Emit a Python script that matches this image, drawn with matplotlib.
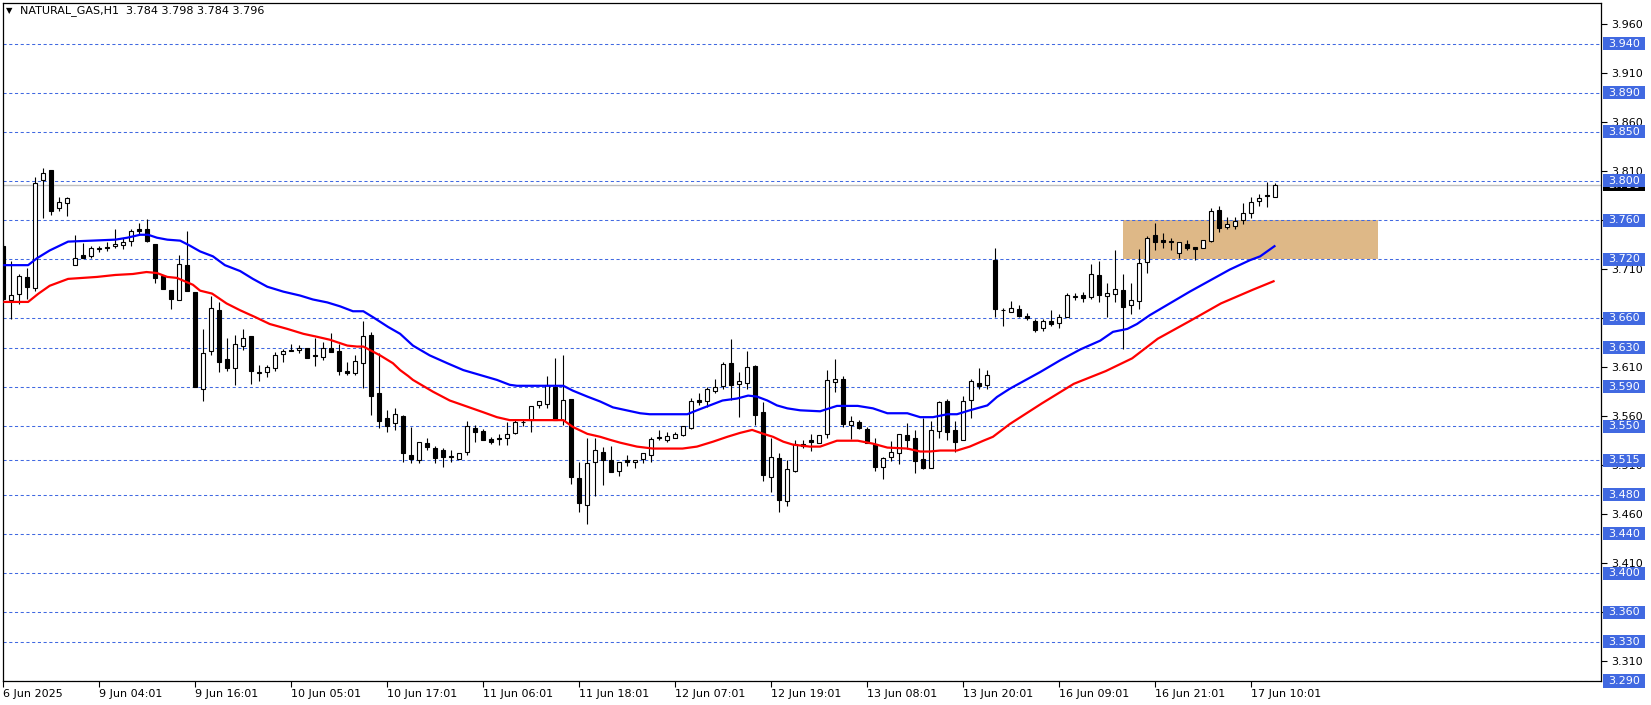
import matplotlib
matplotlib.use("Agg")
import matplotlib.pyplot as plt
from matplotlib.patches import Rectangle
import numpy as np

plt.rcParams['font.family'] = ['DejaVu Sans']

# ---------------- data ----------------
opens = [3.734,3.678,3.685,3.702,3.691,3.801,3.811,3.772,3.777,3.714,
         3.724,3.723,3.730,3.733,3.734,3.735,3.739,3.751,3.751,3.736,
         3.703,3.689,3.678,3.714,3.687,3.588,3.626,3.668,3.618,3.609,
         3.632,3.642,3.604,3.605,3.609,3.623,3.627,3.628,3.630,3.622,
         3.620,3.630,3.626,3.606,3.604,3.614,3.643,3.584,3.558,3.553,
         3.560,3.520,3.515,3.533,3.528,3.526,3.519,3.516,3.523,3.548,
         3.545,3.537,3.538,3.538,3.543,3.554,3.556,3.571,3.572,3.590,
         3.556,3.578,3.497,3.469,3.513,3.524,3.515,3.504,3.515,3.513,
         3.516,3.520,3.538,3.536,3.538,3.541,3.548,3.577,3.575,3.586,
         3.591,3.614,3.593,3.594,3.611,3.564,3.498,3.517,3.474,3.504,
         3.532,3.536,3.533,3.542,3.595,3.598,3.551,3.554,3.547,3.532,
         3.508,3.518,3.522,3.541,3.538,3.516,3.507,3.545,3.575,3.546,
         3.536,3.577,3.594,3.592,3.719,3.668,3.666,3.669,3.662,3.657,
         3.650,3.657,3.655,3.661,3.682,3.684,3.682,3.704,3.683,3.685,
         3.689,3.673,3.677,3.717,3.745,3.740,3.739,3.726,3.736,3.733,
         3.731,3.739,3.770,3.753,3.754,3.760,3.767,3.779,3.786,3.784]
highs = [3.737,3.718,3.705,3.711,3.804,3.813,3.811,3.784,3.784,3.745,
         3.737,3.734,3.734,3.738,3.751,3.742,3.751,3.757,3.761,3.736,
         3.703,3.689,3.724,3.749,3.687,3.649,3.683,3.676,3.640,3.643,
         3.649,3.642,3.612,3.612,3.625,3.629,3.634,3.633,3.630,3.640,
         3.636,3.645,3.634,3.615,3.622,3.657,3.646,3.624,3.566,3.568,
         3.561,3.549,3.534,3.538,3.530,3.528,3.526,3.522,3.555,3.551,
         3.547,3.539,3.542,3.554,3.557,3.557,3.570,3.576,3.601,3.619,
         3.622,3.578,3.513,3.538,3.538,3.529,3.530,3.513,3.520,3.515,
         3.522,3.539,3.546,3.544,3.544,3.550,3.579,3.584,3.590,3.598,
         3.615,3.639,3.605,3.626,3.612,3.574,3.538,3.522,3.515,3.536,
         3.536,3.542,3.541,3.607,3.618,3.601,3.560,3.556,3.549,3.538,
         3.518,3.535,3.542,3.553,3.546,3.558,3.555,3.576,3.578,3.555,
         3.581,3.598,3.609,3.607,3.732,3.670,3.677,3.673,3.665,3.659,
         3.659,3.668,3.664,3.686,3.686,3.687,3.715,3.718,3.696,3.729,
         3.705,3.696,3.730,3.744,3.757,3.747,3.742,3.738,3.740,3.733,
         3.740,3.772,3.774,3.763,3.763,3.777,3.783,3.787,3.799,3.798]
lows = [3.676,3.659,3.674,3.680,3.688,3.762,3.765,3.769,3.764,3.714,
        3.721,3.721,3.727,3.728,3.732,3.730,3.734,3.746,3.738,3.696,
        3.690,3.669,3.678,3.688,3.590,3.576,3.622,3.605,3.606,3.592,
        3.628,3.593,3.596,3.600,3.606,3.615,3.626,3.624,3.619,3.611,
        3.617,3.625,3.602,3.602,3.602,3.589,3.561,3.548,3.544,3.546,
        3.513,3.512,3.512,3.526,3.512,3.508,3.513,3.516,3.520,3.534,
        3.536,3.532,3.531,3.531,3.542,3.550,3.544,3.568,3.568,3.556,
        3.551,3.491,3.462,3.450,3.479,3.490,3.503,3.499,3.509,3.507,
        3.512,3.513,3.536,3.534,3.538,3.540,3.547,3.571,3.569,3.584,
        3.588,3.577,3.559,3.588,3.551,3.494,3.483,3.462,3.468,3.503,
        3.528,3.525,3.533,3.538,3.585,3.549,3.537,3.547,3.533,3.504,
        3.496,3.514,3.511,3.527,3.502,3.506,3.507,3.538,3.536,3.523,
        3.536,3.558,3.588,3.588,3.661,3.652,3.666,3.661,3.658,3.646,
        3.647,3.652,3.650,3.661,3.678,3.676,3.679,3.676,3.661,3.676,
        3.629,3.664,3.669,3.706,3.729,3.731,3.729,3.721,3.729,3.719,
        3.731,3.738,3.748,3.751,3.751,3.756,3.762,3.774,3.773,3.784]
closes = [3.680,3.684,3.703,3.692,3.798,3.808,3.769,3.778,3.782,3.721,
          3.721,3.731,3.731,3.732,3.736,3.738,3.749,3.749,3.739,3.701,
          3.690,3.680,3.715,3.688,3.590,3.624,3.670,3.615,3.609,3.634,
          3.640,3.606,3.605,3.610,3.622,3.626,3.626,3.630,3.619,3.621,
          3.630,3.625,3.606,3.604,3.616,3.642,3.581,3.555,3.550,3.562,
          3.522,3.516,3.534,3.529,3.517,3.518,3.518,3.522,3.550,3.544,
          3.536,3.534,3.537,3.542,3.554,3.554,3.570,3.575,3.592,3.556,
          3.577,3.498,3.472,3.512,3.526,3.515,3.503,3.513,3.513,3.515,
          3.522,3.537,3.538,3.540,3.542,3.550,3.576,3.574,3.588,3.590,
          3.613,3.592,3.596,3.610,3.561,3.500,3.518,3.475,3.506,3.532,
          3.530,3.534,3.541,3.597,3.598,3.552,3.555,3.548,3.533,3.508,
          3.517,3.523,3.542,3.536,3.514,3.507,3.546,3.574,3.544,3.534,
          3.576,3.596,3.591,3.602,3.669,3.668,3.670,3.662,3.660,3.648,
          3.657,3.654,3.661,3.684,3.682,3.681,3.705,3.684,3.686,3.690,
          3.671,3.678,3.716,3.742,3.738,3.738,3.738,3.738,3.732,3.730,
          3.740,3.769,3.752,3.756,3.759,3.767,3.778,3.782,3.785,3.796]

# moving averages, sampled along the bars (bar index, price)
ma_blue_x = [0,3.1,4.2,5.8,8.1,11.1,14.0,15.5,17.1,18.1,19.2,20.5,22.1,23.3,24.6,26.2,
             27.7,29.6,31.2,33.0,35.0,37.1,38.7,40.5,42.1,43.7,45.0,46.2,48.1,49.6,
             51.2,53.3,55.5,57.5,59.6,61.7,63.3,64.2,70.0,71.2,73.0,74.6,76.2,77.9,
             79.6,80.8,85.5,86.7,88.3,89.9,91.7,93.1,94.2,95.5,96.7,98.0,99.6,102.1,
             104.2,106.8,108.7,110.5,113.0,114.6,116.2,118.0,119.2,120.8,123.0,124.2,
             125.8,129.6,132.1,134.6,137.1,138.7,140.5,141.7,143.3,148.3,153.3,155.8,
             157.1,159.0]
ma_blue_y = [3.714,3.714,3.721,3.729,3.738,3.739,3.740,3.742,3.745,3.745,3.742,3.740,
             3.739,3.734,3.728,3.723,3.714,3.708,3.700,3.692,3.687,3.683,3.679,3.676,
             3.672,3.667,3.667,3.661,3.651,3.644,3.632,3.622,3.614,3.607,3.602,3.597,
             3.592,3.591,3.591,3.586,3.580,3.575,3.569,3.566,3.563,3.562,3.562,3.566,
             3.571,3.576,3.578,3.581,3.580,3.576,3.571,3.568,3.566,3.565,3.5705,3.5705,
             3.568,3.563,3.563,3.559,3.559,3.562,3.562,3.566,3.571,3.5796,3.588,3.605,
             3.617,3.628,3.637,3.646,3.649,3.654,3.663,3.687,3.7095,3.719,3.723,3.734]
ma_red_x = [0,3.1,4.4,5.8,8.1,11.7,14.0,16.2,17.9,19.2,20.5,21.7,23.7,24.6,26.1,27.9,
            29.6,31.5,33.3,35.5,37.5,39.2,40.8,43.0,44.2,45.0,47.1,48.7,49.6,50.6,
            51.2,53.7,55.8,57.9,60.0,61.7,63.3,70.0,71.2,73.0,74.6,75.8,77.1,79.2,
            81.2,84.9,86.7,88.7,90.5,92.1,93.6,95.0,96.2,97.5,98.7,100.8,102.1,104.2,
            106.8,108.7,110.5,113.0,114.6,115.8,117.1,119.2,120.8,122.5,123.7,125.8,
            129.8,133.8,137.8,141.1,144.3,148.3,152.2,156.2,158.9]
ma_red_y = [3.6765,3.6765,3.685,3.693,3.700,3.702,3.704,3.705,3.707,3.706,3.702,3.701,
            3.694,3.688,3.685,3.675,3.668,3.661,3.654,3.649,3.644,3.641,3.638,3.632,
            3.631,3.631,3.622,3.614,3.607,3.601,3.597,3.585,3.576,3.570,3.564,3.559,
            3.556,3.556,3.549,3.542,3.539,3.536,3.533,3.529,3.527,3.527,3.529,3.534,
            3.539,3.543,3.546,3.542,3.539,3.534,3.531,3.529,3.529,3.535,3.535,3.532,
            3.528,3.527,3.524,3.524,3.525,3.525,3.529,3.535,3.539,3.552,3.573,3.593,
            3.606,3.619,3.639,3.657,3.675,3.689,3.698]

level_lines = [3.940,3.890,3.850,3.800,3.760,3.720,3.660,3.630,3.590,3.550,
               3.515,3.480,3.440,3.400,3.360,3.330,3.290]
price_ticks = [3.310,3.360,3.410,3.460,3.510,3.560,3.610,3.660,3.710,3.760,
               3.810,3.860,3.910,3.960]
time_tick_pos = [0,12,24,36,48,60,72,84,96,108,120,132,144,156]
time_tick_labels = ['6 Jun 2025','9 Jun 04:01','9 Jun 16:01','10 Jun 05:01',
                    '10 Jun 17:01','11 Jun 06:01','11 Jun 18:01','12 Jun 07:01',
                    '12 Jun 19:01','13 Jun 08:01','13 Jun 20:01','16 Jun 09:01',
                    '16 Jun 21:01','17 Jun 10:01']
zone_x = [140, 171.8]
zone_y = [3.720, 3.760]
bid = 3.796
title = 'NATURAL_GAS,H1  3.784 3.798 3.784 3.796'

# ---------------- figure ----------------
W, H = 1651, 705
fig = plt.figure(figsize=(W/100, H/100), dpi=100)
fig.patch.set_facecolor('white')
ax = fig.add_axes([2.7/W, 1-681/H, (1601-2.7)/W, (681-3)/H])
ax.set_xlim(-0.075, 199.7)
ax.set_ylim(3.290, 3.9813)

blue = '#4169E1'
# support/resistance zone
ax.add_patch(Rectangle((zone_x[0], zone_y[0]), zone_x[1]-zone_x[0], zone_y[1]-zone_y[0],
                       facecolor='#DEB887', edgecolor='none', zorder=1))
for lv in level_lines:
    ax.axhline(lv, color=blue, lw=0.75, dashes=(3, 2.5), zorder=2)
ax.axhline(bid, color='#C0C0C0', lw=1.0, zorder=2)

o = np.array(opens); h = np.array(highs); l = np.array(lows); c = np.array(closes)
idx = np.arange(len(o))
ax.vlines(idx, l, h, color='black', lw=0.8, zorder=4)
up = c >= o
bot = np.minimum(o, c)
hgt = np.maximum(np.abs(c - o), 0.0004)
ax.bar(idx[up], hgt[up], bottom=bot[up], width=0.5, facecolor='white',
       edgecolor='black', linewidth=0.8, zorder=5)
ax.bar(idx[~up], hgt[~up], bottom=bot[~up], width=0.5, facecolor='black',
       edgecolor='black', linewidth=0.8, zorder=5)

ax.plot(ma_blue_x, ma_blue_y, color='#0000FF', lw=1.6, zorder=6, solid_capstyle='butt')
ax.plot(ma_red_x, ma_red_y, color='#FF0000', lw=1.6, zorder=6, solid_capstyle='butt')

for s in ax.spines.values():
    s.set_color('black'); s.set_linewidth(0.9)

ax.set_xticks(time_tick_pos)
ax.set_xticklabels(time_tick_labels, fontsize=8, ha='left')
ax.tick_params(axis='x', direction='out', length=4, width=0.8, pad=2, colors='black')

ax.yaxis.tick_right()
ax.set_yticks(price_ticks)
ax.set_yticklabels(['%.3f' % v for v in price_ticks], fontsize=8)
ax.tick_params(axis='y', direction='out', length=4, width=0.8, pad=3, colors='black')

# price labels on the right axis
tr = ax.get_yaxis_transform()
axw = 1601 - 2.7
bx0 = (1603 - 2.7) / axw
bw = 42 / axw
bh = 13 / 980.6
ax.add_patch(Rectangle((bx0, bid - bh/2), bw, bh, transform=tr, clip_on=False,
                       facecolor='black', edgecolor='none', zorder=10))
ax.text(bx0 + bw/2, bid, '%.3f' % bid, transform=tr, color='white', fontsize=8,
        ha='center', va='center', clip_on=False, zorder=11)
for lv in level_lines:
    ax.add_patch(Rectangle((bx0, lv - bh/2), bw, bh, transform=tr, clip_on=False,
                           facecolor=blue, edgecolor='none', zorder=12))
    ax.text(bx0 + bw/2, lv, '%.3f' % lv, transform=tr, color='white', fontsize=8,
            ha='center', va='center', clip_on=False, zorder=13)

# header
fig.text(9.5/W, 1-11/H, '\u25BC', fontsize=6, ha='center', va='center', color='black')
fig.text(20/W, 1-11/H, title, fontsize=8, ha='left', va='center', color='black')

fig.savefig('out.png', dpi=100)
